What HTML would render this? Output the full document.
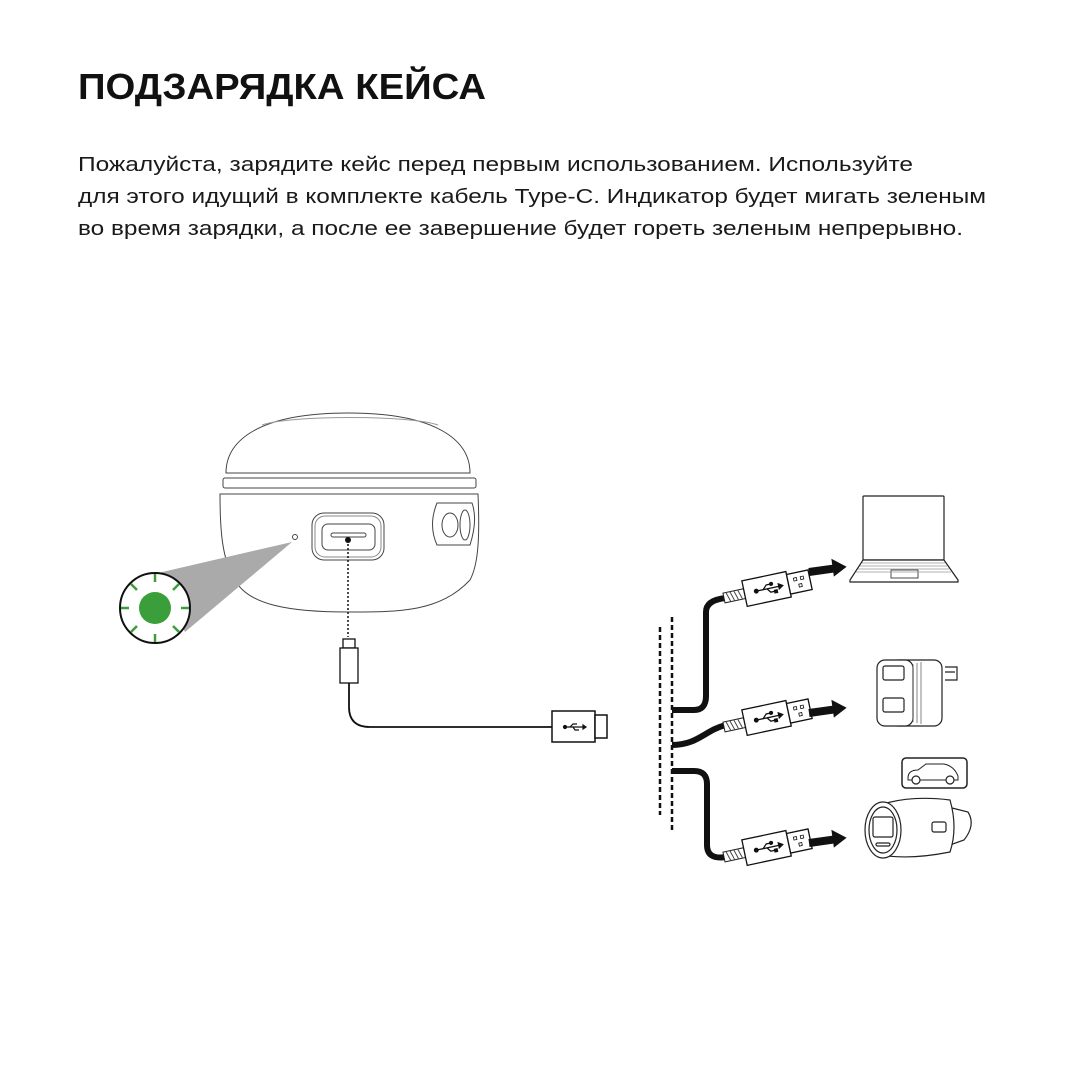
<!DOCTYPE html>
<html><head><meta charset="utf-8"><style>
html,body{margin:0;padding:0;background:#fff;}
svg{display:block}
</style></head><body>
<svg width="1080" height="1080" viewBox="0 0 1080 1080" xmlns="http://www.w3.org/2000/svg" font-family="Liberation Sans, DejaVu Sans, sans-serif">
<defs>
<g id="usb">
  <rect x="0" y="-5" width="21" height="10" fill="#fff" stroke="#222" stroke-width="1"/>
  <path d="M3,-5 l3,10 M7,-5 l3,10 M11,-5 l3,10 M15,-5 l3,10" stroke="#444" stroke-width="1"/>
  <rect x="21" y="-13" width="45" height="26" fill="#fff" stroke="#111" stroke-width="1.3"/>
  <rect x="66" y="-10" width="22" height="20" fill="#fff" stroke="#111" stroke-width="1.3"/>
  <rect x="72" y="-5" width="3" height="3" fill="none" stroke="#111" stroke-width="0.8"/>
  <rect x="79" y="-5" width="3" height="3" fill="none" stroke="#111" stroke-width="0.8"/>
  <rect x="76" y="2" width="3" height="3" fill="none" stroke="#111" stroke-width="0.8"/>
  <g stroke="#111" stroke-width="1.3" fill="#111">
    <path d="M33,0 H56" /><circle cx="33" cy="0" r="1.8"/>
    <path d="M40,0 l4,-4 h5 M44,0 l3,4 h5" fill="none"/>
    <circle cx="49" cy="-4" r="1.4"/><rect x="51" y="3" width="2.6" height="2.6"/>
    <path d="M56,-2.5 L60,0 L56,2.5Z"/>
  </g>
</g>
<g id="arr"><path d="M0,-4 H24 V-10 L38,0 L24,8 V4 H0 Z" fill="#111"/></g>
</defs>

<text x="78" y="99" font-size="36" font-weight="bold" fill="#111" textLength="408" lengthAdjust="spacingAndGlyphs">ПОДЗАРЯДКА КЕЙСА</text>
<g font-size="20" fill="#1a1a1a">
<text x="78" y="171" textLength="835" lengthAdjust="spacingAndGlyphs">Пожалуйста, зарядите кейс перед первым использованием. Используйте</text>
<text x="78" y="203" textLength="908" lengthAdjust="spacingAndGlyphs">для этого идущий в комплекте кабель Type-C. Индикатор будет мигать зеленым</text>
<text x="78" y="235" textLength="885" lengthAdjust="spacingAndGlyphs">во время зарядки, а после ее завершение будет гореть зеленым непрерывно.</text>
</g>

<!-- case -->
<g fill="#fff" stroke="#444" stroke-width="1">
<path d="M226,473 C226,440 260,413 348,413 C436,413 470,440 470,473 Z"/>
<path d="M262,425 C290,415 410,415 438,425" fill="none" stroke="#999"/>
<rect x="223" y="478" width="253" height="10" rx="2"/>
<path d="M220,494 H478 C480,540 478,565 470,580 C440,612 400,612 348,612 C290,612 248,605 235,580 C222,560 220,530 220,494 Z"/>
<rect x="312" y="513" width="72" height="47" rx="12"/>
<rect x="315" y="516" width="66" height="41" rx="10" stroke="#888"/>
<rect x="322" y="524" width="53" height="26" rx="6"/>
<rect x="331" y="533" width="35" height="4" rx="2"/>
<path d="M437,503 H472 Q478,520 470,545 H437 Q428,525 437,503Z"/>
<ellipse cx="450" cy="525" rx="8" ry="12"/>
<ellipse cx="465" cy="525" rx="5" ry="15"/>
<circle cx="295" cy="537" r="2.5"/>
</g>
<circle cx="348" cy="540" r="3" fill="#111"/>
<path d="M348,540 V637" stroke="#111" stroke-width="1.5" stroke-dasharray="2,2"/>

<!-- cone + led -->
<path d="M292,542 L158,573 L185,632 Z" fill="#aaa"/>
<circle cx="155" cy="608" r="35" fill="#fff" stroke="#111" stroke-width="2"/>
<circle cx="155" cy="608" r="16" fill="#3a9e3a"/>
<g stroke="#3a9e3a" stroke-width="2.5">
<path d="M155,582 v-8 M155,634 v8 M129,608 h-8 M181,608 h8 M137,590 l-6,-6 M173,590 l6,-6 M137,626 l-6,6 M173,626 l6,6"/>
</g>

<!-- type c cable -->
<rect x="343" y="639" width="12" height="9" fill="#fff" stroke="#111" stroke-width="1.3"/>
<rect x="340" y="648" width="18" height="35" fill="#fff" stroke="#111" stroke-width="1.3"/>
<path d="M349,683 V707 Q349,727 370,727 H552" fill="none" stroke="#111" stroke-width="1.8"/>
<rect x="552" y="711" width="43" height="31" fill="#fff" stroke="#111" stroke-width="1.5"/>
<rect x="595" y="715" width="12" height="23" fill="#fff" stroke="#111" stroke-width="1.5"/>
<g stroke="#111" stroke-width="1.2" fill="#111">
<path d="M565,727 H583"/><circle cx="565" cy="727" r="1.5"/>
<path d="M570,727 l3,-3 h4 M573,727 l2,3 h4" fill="none"/>
<path d="M583,725 L586,727 L583,729Z"/>
</g>

<!-- dashed lines -->
<path d="M660,627 V815" stroke="#111" stroke-width="2.5" stroke-dasharray="5,3"/>
<path d="M672,617 V830" stroke="#111" stroke-width="2.5" stroke-dasharray="5,3"/>

<!-- cables -->
<g fill="none" stroke="#111" stroke-width="6">
<path d="M672,710 H694 Q706,710 706,696 V612 Q706,600 726,598"/>
<path d="M672,745 C698,745 705,730 726,725"/>
<path d="M672,771 H694 Q707,771 707,784 V845 Q707,860 726,857"/>
</g>
<use href="#usb" transform="translate(724,598) rotate(-12)"/>
<use href="#usb" transform="translate(724,727) rotate(-12)"/>
<use href="#usb" transform="translate(724,857) rotate(-12)"/>
<use href="#arr" transform="translate(809,572) rotate(-8)"/>
<use href="#arr" transform="translate(809,713) rotate(-8)"/>
<use href="#arr" transform="translate(809,843) rotate(-8)"/>

<!-- laptop -->
<g fill="#fff" stroke="#222" stroke-width="1.2">
<rect x="863" y="496" width="81" height="64" rx="1"/>
<path d="M863,560 H944 L958,580 V582 H850 V580 Z"/>
<rect x="891" y="570" width="27" height="8" stroke-width="0.8"/>
</g>
<g stroke="#999" stroke-width="0.7"><path d="M862,563 H945 M860,566 H947 M858,569 H949 M856,572 H951"/></g>

<!-- wall charger -->
<g fill="#fff" stroke="#222" stroke-width="1.2">
<path d="M945,667 H957 V680 H945 M945,672 h10"/>
<rect x="890" y="660" width="52" height="66" rx="8"/>
<rect x="877" y="660" width="36" height="66" rx="8"/>
<rect x="883" y="666" width="21" height="14" rx="2"/>
<rect x="883" y="698" width="21" height="14" rx="2"/>
<path d="M913,664 V722 M917,663 V723 M921,662 V724" stroke="#666" stroke-width="0.8"/>
</g>

<!-- car icon -->
<rect x="902" y="758" width="65" height="30" rx="4" fill="#fff" stroke="#222" stroke-width="1.5"/>
<path d="M908,778 Q908,770 918,770 L926,764 H944 Q954,766 958,776 V780 H908 Z" fill="#fff" stroke="#222" stroke-width="1"/>
<circle cx="916" cy="780" r="4" fill="#fff" stroke="#222" stroke-width="1.2"/>
<circle cx="950" cy="780" r="4" fill="#fff" stroke="#222" stroke-width="1.2"/>

<!-- car charger -->
<g fill="#fff" stroke="#222" stroke-width="1.2">
<path d="M952,808 L968,812 Q976,825 964,840 L950,845 Z"/>
<path d="M880,805 Q910,795 950,800 Q958,828 950,852 Q910,860 880,855 Z"/>
<ellipse cx="883" cy="830" rx="18" ry="28"/>
<ellipse cx="883" cy="830" rx="14" ry="23"/>
<rect x="873" y="817" width="20" height="20" rx="2"/>
<rect x="932" y="822" width="14" height="10" rx="2"/>
<rect x="876" y="843" width="14" height="3" rx="1.5"/>
</g>
</svg>
</body></html>
